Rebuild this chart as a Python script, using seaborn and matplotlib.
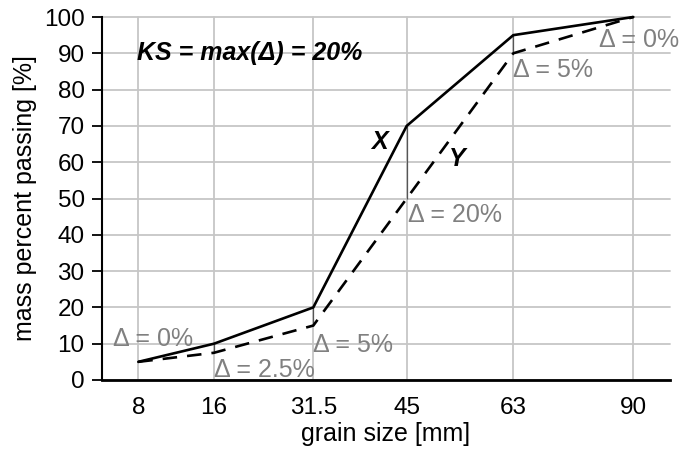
import numpy as np
import pandas as pd
import matplotlib
matplotlib.use("Agg")
import matplotlib.pyplot as plt
import seaborn as sns

# grain size classes [mm] and cumulative mass passing [%]
grain_mm = [8, 16, 31.5, 45, 63, 90]
passing_x = [5, 10, 20, 70, 95, 100]
passing_y = [5, 7.5, 15, 50, 90, 100]
tick_labels = ["8", "16", "31.5", "45", "63", "90"]
y_ticks = list(range(0, 101, 10))

# the reference uses a hand-spaced grain-size axis; spacing of the sieve lines
AXIS_POS = [0, 75.7, 175, 268.4, 375, 495]

GRAY = "#808080"
GRID = "#c6c6c6"
FONT = ["Liberation Sans", "DejaVu Sans"]


def _interp(v, xp, fp):
    v = np.asarray(v, dtype=float)
    out = np.interp(v, xp, fp)
    lo = (fp[1] - fp[0]) / (xp[1] - xp[0])
    hi = (fp[-1] - fp[-2]) / (xp[-1] - xp[-2])
    out = np.where(v < xp[0], fp[0] + (v - xp[0]) * lo, out)
    out = np.where(v > xp[-1], fp[-1] + (v - xp[-1]) * hi, out)
    return out


def fwd(v): return _interp(v, grain_mm, AXIS_POS)
def inv(v): return _interp(v, AXIS_POS, grain_mm)


sns.set_theme(style="white")
plt.rcParams["font.family"] = FONT

df = pd.DataFrame({"size": grain_mm * 2,
                   "passing": passing_x + passing_y,
                   "curve": ["X"] * 6 + ["Y"] * 6})

fig = plt.figure(figsize=(6.82, 4.5), dpi=100, facecolor="white")
ax = fig.add_axes([102 / 682, 1 - 380 / 450, 568 / 682, 363 / 450])

sns.lineplot(data=df, x="size", y="passing", style="curve",
             dashes={"X": "", "Y": (5.5, 3.8)}, color="black",
             linewidth=1.9, legend=False, ax=ax, zorder=4, clip_on=False)

# vertical difference markers between the two curves
diff_idx = [i for i in range(len(grain_mm)) if passing_x[i] != passing_y[i]]
ax.vlines([grain_mm[i] for i in diff_idx], [passing_y[i] for i in diff_idx],
          [passing_x[i] for i in diff_idx], color="#555555", linewidth=0.9, zorder=3)

ax.set_xscale("function", functions=(fwd, inv))
ax.set_xlim(float(inv(-36.3)), float(inv(AXIS_POS[-1] + 36.7)))
ax.set_ylim(0, 100)
ax.set_xticks(grain_mm)
ax.set_xticklabels(tick_labels)
ax.set_yticks(y_ticks)
ax.minorticks_off()

ax.grid(True, color=GRID, linewidth=1.3, zorder=0)
ax.set_axisbelow(True)
for gl in ax.get_xgridlines() + ax.get_ygridlines():
    gl.set_clip_on(False)
ax.spines[["top", "right"]].set_visible(False)
ax.spines["left"].set_color("black")
ax.spines["left"].set_linewidth(1.5)
ax.spines["bottom"].set_color("black")
ax.spines["bottom"].set_linewidth(2.0)
ax.tick_params(axis="y", direction="out", length=7.5, width=1.3, color="black",
               labelsize=17.5, labelcolor="black", pad=5, left=True)
ax.tick_params(axis="x", length=0, labelsize=17.5, labelcolor="black", pad=12.5)

ax.set_xlabel("grain size [mm]", fontsize=18, color="black", labelpad=2)
ax.set_ylabel("mass percent passing [%]", fontsize=18, color="black", labelpad=5)

# delta labels: (text, grain size, value, dx px, dy px)
deltas = [
    ("Δ = 0%", 8, 5, -25, 23),
    ("Δ = 2.5%", 16, 7.5, 0, -17),
    ("Δ = 5%", 31.5, 15, 0, -19),
    ("Δ = 20%", 45, 50, 1, -16),
    ("Δ = 5%", 63, 90, 0, -17),
    ("Δ = 0%", 90, 100, -34, -23),
]
for txt, s, v, dx, dy in deltas:
    ax.annotate(txt, xy=(s, v), xytext=(dx, dy), textcoords="offset pixels",
                ha="left", va="center", fontsize=18, color=GRAY, zorder=5)

ax.annotate("X", xy=(45, 70), xytext=(-27, -16), textcoords="offset pixels",
            ha="center", va="center", fontsize=18, fontweight="bold",
            fontstyle="italic", color="black")
ax.annotate("Y", xy=(45, 70), xytext=(51, -33), textcoords="offset pixels",
            ha="center", va="center", fontsize=18, fontweight="bold",
            fontstyle="italic", color="black")
ax.annotate("KS = max(Δ) = 20%", xy=(8, 90), xytext=(-1, 0),
            textcoords="offset pixels", ha="left", va="center", fontsize=18,
            fontweight="bold", fontstyle="italic", color="black")

fig.savefig("out.png", dpi=100, facecolor="white")
